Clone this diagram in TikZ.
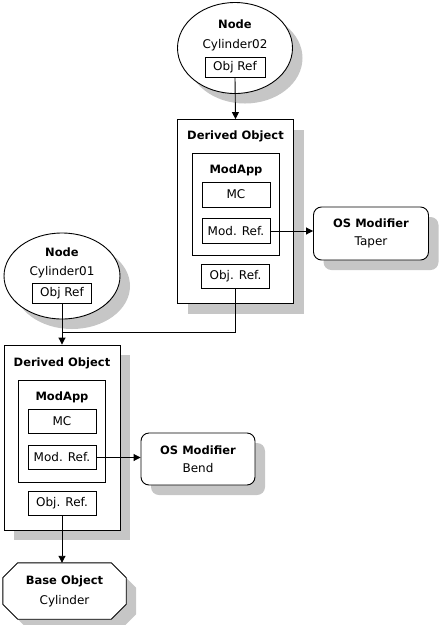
\documentclass[tikz,border=0pt]{standalone}
\usepackage{fontspec}
\setmainfont{DejaVu Sans}
\usepackage{xcolor}
\usetikzlibrary{shapes.geometric,shadows,arrows.meta}
\definecolor{shadowgray}{HTML}{C6C6C6}
\definecolor{inkblack}{HTML}{000000}

\tikzset{
  boxshadow/.style={drop shadow={shadow xshift=10pt,shadow yshift=-10pt,
      fill=shadowgray,opacity=1}},
  framebox/.style={draw=inkblack,line width=0.9pt,fill=white,inner sep=0pt},
  refbox/.style={framebox,minimum width=68pt,minimum height=25pt,
      font=\fontsize{12}{14}\selectfont},
  titletext/.style={inner sep=0pt,font=\fontsize{11.5}{13}\selectfont\bfseries},
  nametext/.style={inner sep=0pt,font=\fontsize{12}{14}\selectfont},
  nodeblob/.style={framebox,ellipse,boxshadow},
  derivedbox/.style={framebox,boxshadow,minimum width=116pt,minimum height=184pt},
  modappbox/.style={framebox,minimum width=87pt,minimum height=102pt},
  modifierbox/.style={framebox,boxshadow,rounded corners=8pt,minimum width=115pt,
      minimum height=53pt,align=center,font=\fontsize{12}{18}\selectfont},
  baseframe/.style={inner sep=0pt,minimum width=123pt,minimum height=56pt},
  basetext/.style={inner sep=0pt,align=center,font=\fontsize{12}{20}\selectfont},
  link/.style={draw=inkblack,line width=0.9pt},
  linkarrow/.style={link,-{Triangle[length=7pt,width=7pt]}}
}

\begin{document}
\begin{tikzpicture}[x=1pt,y=-1pt]
  \useasboundingbox (0,0) rectangle (442,625);

  % upper node Cylinder02
  \node[nodeblob,minimum width=115pt,minimum height=91pt] (nodeA) at (235,48) {};
  \node[titletext] (nodeAtitle) at (235,24) {Node};
  \node[nametext] (nodeAname) at (235,45) {Cylinder02};
  \node[refbox,minimum width=60pt,minimum height=20pt] (nodeAref) at (235,67) {Obj Ref};

  % upper derived object
  \node[derivedbox] (derivA) at (235.5,211.5) {};
  \node[titletext] (derivAtitle) at (235.5,136) {Derived Object};
  \node[modappbox] (modappA) at (236,204) {};
  \node[titletext] (modappAtitle) at (236,170) {ModApp};
  \node[refbox] (mcA) at (236,194.5) {MC};
  \node[refbox] (modrefA) at (236,231) {Mod. Ref.};
  \node[refbox,minimum height=24pt] (objrefA) at (235.5,276) {Obj. Ref.};

  \node[modifierbox] (taper) at (371,233.5) {\textbf{\fontsize{11.5}{13}\selectfont OS Modifier}\\Taper};

  % lower node Cylinder01
  \node[nodeblob,minimum width=116pt,minimum height=86pt] (nodeB) at (62,276) {};
  \node[titletext] (nodeBtitle) at (62,252) {Node};
  \node[nametext] (nodeBname) at (62,272) {Cylinder01};
  \node[refbox,minimum width=59pt,minimum height=20pt] (nodeBref) at (62,293) {Obj Ref};

  % lower derived object
  \node[derivedbox,minimum height=185pt] (derivB) at (62,437.5) {};
  \node[titletext] (derivBtitle) at (62,363) {Derived Object};
  \node[modappbox] (modappB) at (62,431) {};
  \node[titletext] (modappBtitle) at (62,397) {ModApp};
  \node[refbox,minimum height=24pt] (mcB) at (62,421) {MC};
  \node[refbox,minimum height=24pt] (modrefB) at (62,457.5) {Mod. Ref.};
  \node[refbox,minimum height=24pt] (objrefB) at (62,503.5) {Obj. Ref.};

  \node[modifierbox,minimum width=114pt,minimum height=52pt] (bend) at (198,459) {\textbf{\fontsize{11.5}{13}\selectfont OS Modifier}\\Bend};

  % base object octagon
  \node[baseframe] (base) at (64.5,591) {};
  \draw[framebox,boxshadow]
    ([xshift=15pt]base.north west) -- ([xshift=-15pt]base.north east)
    -- ([yshift=-15pt]base.north east) -- ([yshift=15pt]base.south east)
    -- ([xshift=-15pt]base.south east) -- ([xshift=15pt]base.south west)
    -- ([yshift=15pt]base.south west) -- ([yshift=-15pt]base.north west) -- cycle;
  \node[basetext] (basetitle) at (base) {\textbf{\fontsize{11.5}{13}\selectfont Base Object}\\Cylinder};

  % connectors
  \coordinate (join) at (62,332);
  \draw[linkarrow] (nodeAref.south) -- (derivA.north);
  \draw[linkarrow] (modrefA.east) -- (modrefA.east -| taper.west);
  \draw[link] (objrefA.south) |- (join);
  \draw[linkarrow] (nodeBref.south) -- (nodeBref.south |- derivB.north);
  \draw[linkarrow] (modrefB.east) -- (modrefB.east -| bend.west);
  \draw[linkarrow] (objrefB.south) -- (objrefB.south |- base.north);
\end{tikzpicture}
\end{document}
